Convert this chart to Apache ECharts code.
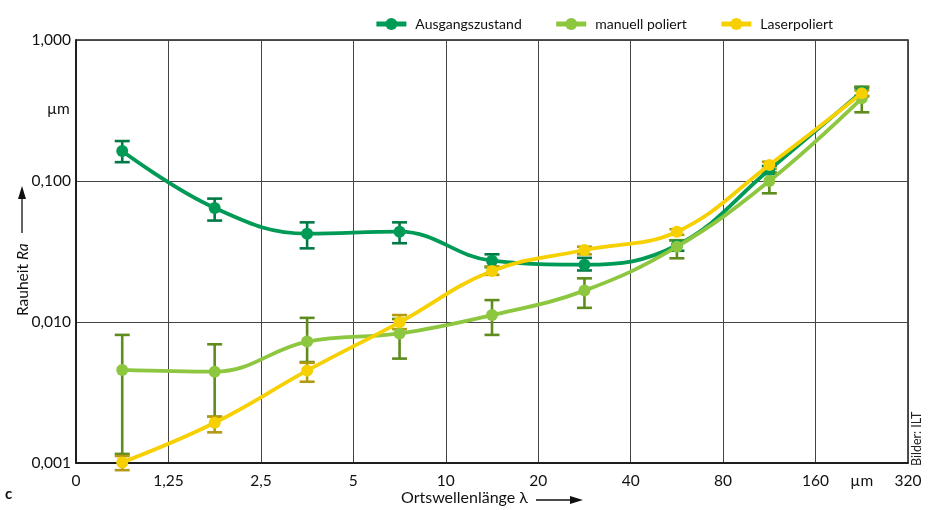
<!DOCTYPE html>
<html><head><meta charset="utf-8">
<script src="https://cdn.jsdelivr.net/npm/echarts@6/dist/echarts.min.js"></script>
<style>html,body{margin:0;padding:0;background:#fff}#c{width:930px;height:510px}</style>
</head><body><div id="c"></div>
<script>
const xLabels = ['0','1,25','2,5','5','10','20','40','80','160','320'];
const xPos = [0.5,1.5,2.5,3.5,4.5,5.5,6.5,7.5,8.5];
const seriesNames = ['Ausgangszustand','manuell poliert','Laserpoliert'];

const ausgang     = [0.163, 0.0644, 0.0423, 0.0437, 0.0272, 0.0255, 0.035, 0.12, 0.43];
const ausgangLow  = [0.136, 0.0524, 0.0333, 0.0362, 0.0245, 0.0232, 0.032, 0.112, 0.40];
const ausgangHigh = [0.192, 0.075, 0.0509, 0.0509, 0.0302, 0.0285, 0.038, 0.128, 0.46];

const manuell     = [0.00457, 0.00444, 0.00726, 0.0083, 0.0112, 0.0167, 0.0342, 0.100, 0.386];
const manuellLow  = [0.00116, 0.00213, 0.0052, 0.0055, 0.0081, 0.0126, 0.0283, 0.0818, 0.307];
const manuellHigh = [0.0081, 0.00695, 0.0107, 0.0105, 0.0143, 0.0204, 0.038, 0.115, 0.467];

const laser     = [0.00101, 0.00193, 0.00452, 0.00995, 0.023, 0.0324, 0.0437, 0.13, 0.419];
const laserLow  = [0.00089, 0.00165, 0.00377, 0.0089, 0.0216, 0.0302, 0.0415, 0.122, 0.40];
const laserHigh = [0.00112, 0.00213, 0.00514, 0.0112, 0.0248, 0.0342, 0.0455, 0.137, 0.44];

const colors = ['#009a57', '#8dc63f', '#f6d000'];
const errColors = ['#007a45', '#5e8c1d', '#b39a12'];
const FONT = 'Lato';

function pts(vals){ return vals.map((v,i)=>[xPos[i], v]); }
function errs(lo, hi){ return lo.map((l,i)=>[xPos[i], l, hi[i]]); }

function errSeries(name, lo, hi, color){
  return {
    type:'custom', name: name + ' err', clip:false, z:3,
    data: errs(lo, hi),
    encode:{x:0, y:[1,2]},
    renderItem:function(params, api){
      const x = api.value(0);
      const pTop = api.coord([x, api.value(2)]);
      const pBot = api.coord([x, api.value(1)]);
      const hw = 7.5;
      const st = {stroke: color, lineWidth: 2.6};
      return {type:'group', children:[
        {type:'line', shape:{x1:pTop[0], y1:pTop[1], x2:pBot[0], y2:pBot[1]}, style:st},
        {type:'line', shape:{x1:pTop[0]-hw, y1:pTop[1], x2:pTop[0]+hw, y2:pTop[1]}, style:st},
        {type:'line', shape:{x1:pBot[0]-hw, y1:pBot[1], x2:pBot[0]+hw, y2:pBot[1]}, style:st}
      ]};
    }
  };
}
function lineSeries(name, vals, color, z){
  return {
    type:'line', name:name, data:pts(vals), smooth:0.4, z:z,
    symbol:'circle', symbolSize:12, clip:false,
    lineStyle:{color:color, width:3.8},
    itemStyle:{color:color},
    emphasis:{disabled:true}
  };
}

const chart = echarts.init(document.getElementById('c'), null, {renderer:'canvas'});
chart.setOption({
  animation:false,
  textStyle:{fontFamily:FONT},
  grid:{left:76, right:22, top:40, bottom:47, show:true, borderColor:'#1a1a1a', borderWidth:1.5},
  legend:{
    data:seriesNames, right:92, top:12, itemWidth:30, itemHeight:15, itemGap:32,
    lineStyle:{width:5},
    textStyle:{fontFamily:FONT, fontSize:14, color:'#111', padding:[0,0,0,4]}
  },
  xAxis:[{
    type:'value', min:0, max:9, interval:1,
    axisLine:{show:true, lineStyle:{color:'#111', width:1.5}},
    axisTick:{show:false},
    splitLine:{show:true, lineStyle:{color:'#444', width:1}},
    axisLabel:{margin:10, fontSize:15.5, color:'#111', fontFamily:FONT,
      formatter:v=>xLabels[Math.round(v)] ?? ''}
  },{
    type:'value', min:0, max:9, interval:0.5, position:'bottom',
    axisLine:{show:false}, axisTick:{show:false}, splitLine:{show:false},
    axisLabel:{margin:10, fontSize:15.5, color:'#111', fontFamily:FONT, showMinLabel:false, showMaxLabel:false,
      formatter:v=>Math.abs(v-8.5)<1e-6 ? 'µm' : ''}
  }],
  yAxis:{
    type:'log', min:0.001, max:1, logBase:10,
    axisLine:{show:true, lineStyle:{color:'#111', width:1.5}},
    axisTick:{show:false},
    splitLine:{show:true, lineStyle:{color:'#444', width:1}},
    minorSplitLine:{show:false},
    axisLabel:{margin:5, fontSize:15.5, color:'#111', fontFamily:FONT,
      formatter:v=>v.toFixed(3).replace('.',',')}
  },
  graphic:[
    {type:'text', left:47, top:101, style:{text:'µm', font:'15.5px Lato', fill:'#111'}},
    {type:'text', x:31, y:316, rotation:Math.PI/2, style:{
      text:'{n|Rauheit }{i|Ra}', rich:{n:{font:'15.5px Lato', fill:'#111'}, i:{font:'italic 15.5px Lato', fill:'#111'}},
      verticalAlign:'bottom', align:'left'}},
    {type:'line', shape:{x1:22, y1:233, x2:22, y2:196}, style:{stroke:'#111', lineWidth:1.3}},
    {type:'polygon', shape:{points:[[22,186],[18,199],[26,199]]}, style:{fill:'#111'}},
    {type:'text', left:401, top:490, style:{text:'Ortswellenlänge λ', font:'16px Lato', fill:'#111'}},
    {type:'line', shape:{x1:536, y1:500, x2:572, y2:500}, style:{stroke:'#111', lineWidth:1.3}},
    {type:'polygon', shape:{points:[[583,500],[570,496],[570,504]]}, style:{fill:'#111'}},
    {type:'text', left:5, top:487, style:{text:'c', font:'bold 15px Lato', fill:'#111'}},
    {type:'text', x:917, y:466, rotation:Math.PI/2, style:{text:'Bilder: ILT', font:'12.5px Lato', fill:'#222', verticalAlign:'middle', align:'left'}}
  ],
  series:[
    errSeries(seriesNames[0], ausgangLow, ausgangHigh, errColors[0]),
    errSeries(seriesNames[1], manuellLow, manuellHigh, errColors[1]),
    errSeries(seriesNames[2], laserLow, laserHigh, errColors[2]),
    lineSeries(seriesNames[0], ausgang, colors[0], 4),
    lineSeries(seriesNames[1], manuell, colors[1], 5),
    lineSeries(seriesNames[2], laser, colors[2], 6)
  ]
});
</script></body></html>
